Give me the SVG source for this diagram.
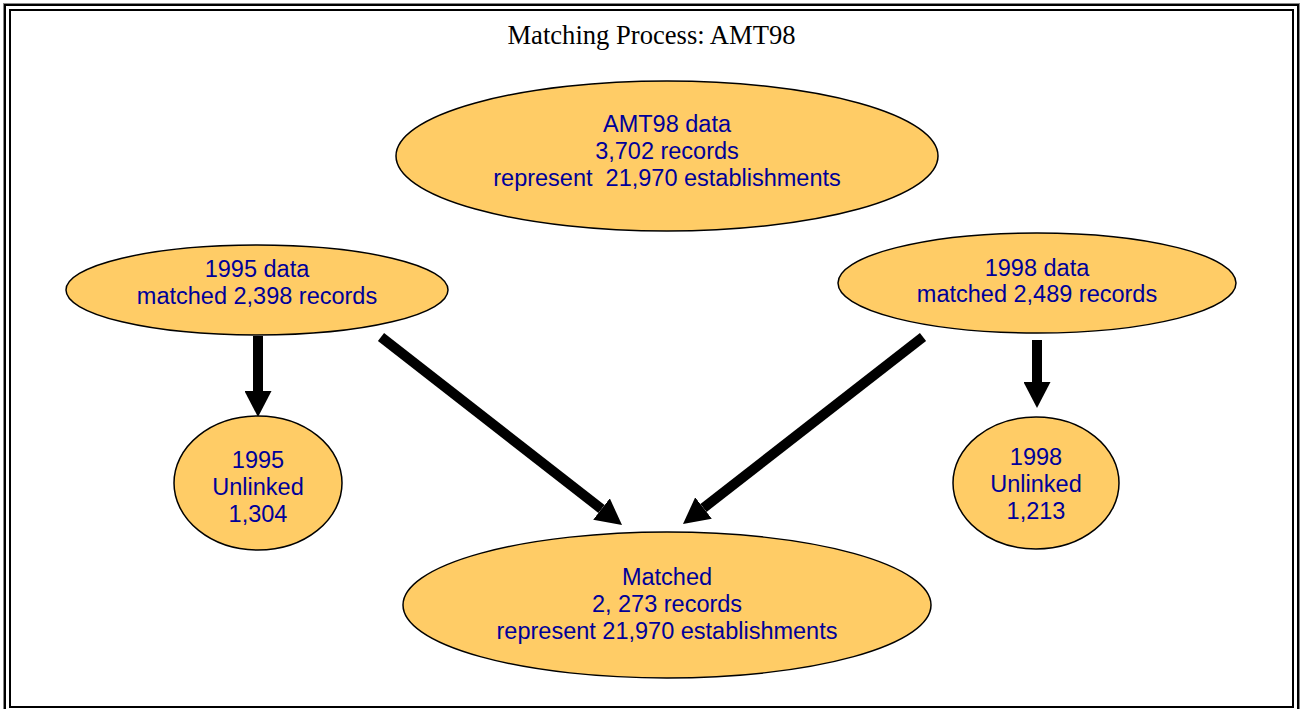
<svg xmlns="http://www.w3.org/2000/svg" width="1303" height="709" viewBox="0 0 1303 709">
  <style>
    .node ellipse { fill: #FFCC66; stroke: #000000; stroke-width: 1.5; }
    .node text { font-family: "Liberation Sans", Arial, sans-serif; font-size: 23.5px; fill: #000099; text-anchor: middle; }
    .title { font-family: "Liberation Serif", "Times New Roman", serif; font-size: 26.6px; fill: #000000; text-anchor: middle; }
    .conn line { stroke: #000000; stroke-width: 10; stroke-linecap: butt; marker-end: url(#head); }
  </style>
  <defs>
    <marker id="head" markerUnits="userSpaceOnUse" markerWidth="26" markerHeight="27" refX="0" refY="13.5" orient="auto">
      <path d="M0,0 L26,13.5 L0,27 Z" fill="#000000"/>
    </marker>
  </defs>
  <rect x="0" y="0" width="1303" height="709" fill="#ffffff"/>
  <g id="frame" fill="none">
    <rect x="3.5" y="3.5" width="1296" height="712" stroke="#888888" stroke-width="1"/>
    <rect x="5" y="5" width="1293" height="710" stroke="#000000" stroke-width="2"/>
    <rect x="10" y="10" width="1283" height="697" stroke="#000000" stroke-width="2"/>
  </g>
  <text class="title" x="651.5" y="44">Matching Process: AMT98</text>

  <g id="conn" class="conn">
    <line x1="258" y1="336" x2="258" y2="391"/>
    <line x1="1037" y1="340" x2="1037" y2="382"/>
    <line x1="381" y1="337" x2="601.5" y2="509"/>
    <line x1="923" y1="337" x2="703.5" y2="508"/>
  </g>

  <g id="amt98" class="node">
    <ellipse cx="667" cy="156" rx="271" ry="75"/>
    <text x="667" y="132">AMT98 data</text>
    <text x="667" y="159">3,702 records</text>
    <text x="667" y="186" xml:space="preserve">represent  21,970 establishments</text>
  </g>
  <g id="data1995" class="node">
    <ellipse cx="257" cy="290" rx="191" ry="45"/>
    <text x="257" y="277">1995 data</text>
    <text x="257" y="304">matched 2,398 records</text>
  </g>
  <g id="data1998" class="node">
    <ellipse cx="1037" cy="283" rx="199" ry="50"/>
    <text x="1037" y="276">1998 data</text>
    <text x="1037" y="302">matched 2,489 records</text>
  </g>
  <g id="unlinked1995" class="node">
    <ellipse cx="258" cy="483" rx="84" ry="67"/>
    <text x="258" y="468">1995</text>
    <text x="258" y="495">Unlinked</text>
    <text x="258" y="522">1,304</text>
  </g>
  <g id="unlinked1998" class="node">
    <ellipse cx="1036" cy="483" rx="83" ry="66"/>
    <text x="1036" y="465">1998</text>
    <text x="1036" y="492">Unlinked</text>
    <text x="1036" y="519">1,213</text>
  </g>
  <g id="matched" class="node">
    <ellipse cx="667" cy="605" rx="264" ry="73"/>
    <text x="667" y="585">Matched</text>
    <text x="667" y="612">2, 273 records</text>
    <text x="667" y="639">represent 21,970 establishments</text>
  </g>
</svg>
